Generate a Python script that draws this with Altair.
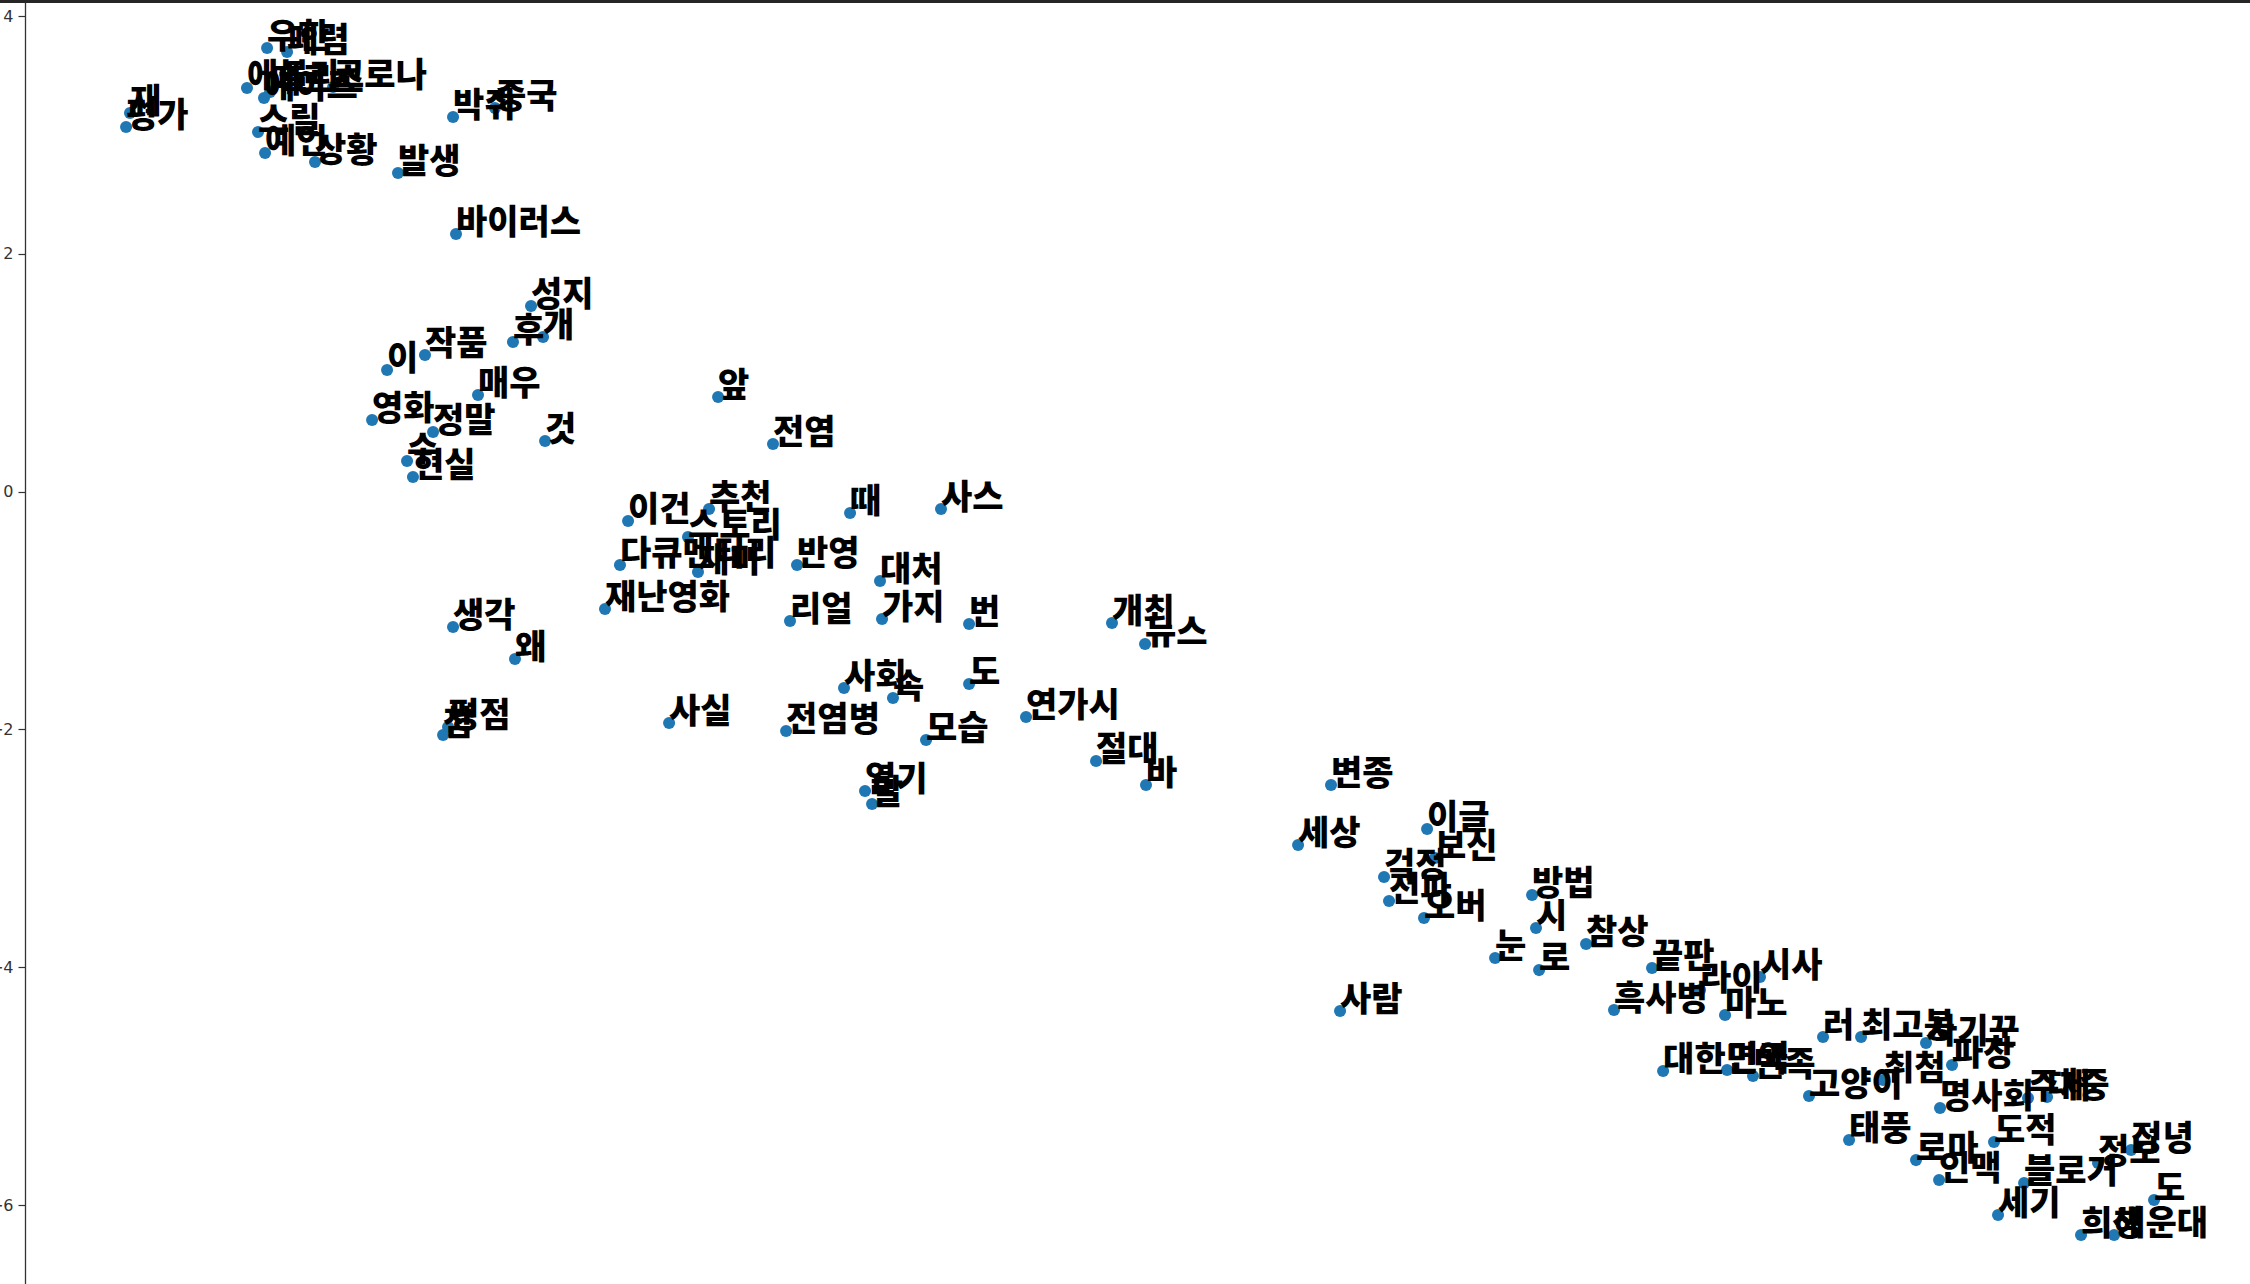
import altair as alt
import pandas as pd

words = [
    "재", "평가", "우한", "폐렴", "에볼라", "메르스", "에이즈", "코로나", "스릴", "예언",
    "상황", "박쥐", "중국", "발생", "바이러스", "성지", "후", "개", "이", "작품",
    "매우", "영화", "정말", "것", "수", "현실", "앞", "전염", "이건", "추천",
    "스토리", "다큐멘터리", "재미", "반영", "재난영화", "때", "사스", "대처", "리얼", "가지",
    "번", "개최", "뉴스", "생각", "왜", "평점", "참", "사회", "속", "도",
    "사실", "전염병", "모습", "연가시", "절대", "바", "열기", "말", "변종", "세상",
    "이글", "걱정", "보신", "전파", "오버", "방법", "시", "눈", "로", "참상",
    "사람", "끝판", "라이", "시사", "흑사병", "마노", "대한민국", "면역", "민족", "러",
    "최고봉", "사기꾼", "파장", "취첨", "고양이", "명사회", "주제", "대중", "태풍", "로마",
    "인맥", "도적", "블로거", "정보", "정녕", "세기", "도", "희생", "해운대",
]

xs = [
    -8.092, -8.125, -6.939, -6.771, -7.108, -6.914, -6.965, -6.384, -7.015, -6.956,
    -6.536, -5.375, -5.022, -5.838, -5.350, -4.719, -4.871, -4.618, -5.930, -5.611,
    -5.165, -6.056, -5.543, -4.601, -5.762, -5.712, -3.146, -2.684, -3.903, -3.222,
    -3.399, -3.971, -3.315, -2.482, -4.097, -2.036, -1.271, -1.784, -2.541, -1.767,
    -1.035, 0.167, 0.445, -5.375, -4.854, -5.417, -5.459, -2.087, -1.675, -1.035,
    -3.558, -2.574, -1.397, -0.556, 0.033, 0.453, -1.910, -1.851, 2.009, 1.732,
    2.817, 2.455, 2.884, 2.497, 2.791, 3.700, 3.733, 3.389, 3.759, 4.154,
    2.085, 4.709, 5.113, 5.617, 4.389, 5.323, 4.802, 5.340, 5.558, 6.147,
    6.467, 7.013, 7.232, 6.652, 6.029, 7.131, 7.871, 8.031, 6.366, 6.929,
    7.123, 7.585, 7.838, 8.460, 8.738, 7.619, 8.931, 8.317, 8.595,
]

ys = [
    3.184, 3.067, 3.731, 3.697, 3.395, 3.361, 3.310, 3.403, 3.024, 2.848,
    2.772, 3.151, 3.226, 2.680, 2.167, 1.561, 1.258, 1.300, 1.023, 1.149,
    0.813, 0.602, 0.501, 0.426, 0.257, 0.123, 0.796, 0.400, -0.247, -0.146,
    -0.382, -0.617, -0.676, -0.617, -0.987, -0.180, -0.146, -0.752, -1.088, -1.071,
    -1.113, -1.105, -1.282, -1.139, -1.408, -1.980, -2.047, -1.652, -1.736, -1.618,
    -1.946, -2.013, -2.089, -1.896, -2.266, -2.468, -2.518, -2.627, -2.468, -2.972,
    -2.838, -3.241, -3.082, -3.443, -3.586, -3.393, -3.670, -3.923, -4.024, -3.805,
    -4.368, -4.007, -4.192, -4.082, -4.360, -4.402, -4.873, -4.864, -4.915, -4.587,
    -4.587, -4.637, -4.822, -4.949, -5.083, -5.184, -5.100, -5.092, -5.453, -5.622,
    -5.790, -5.470, -5.815, -5.647, -5.537, -6.084, -5.958, -6.252, -6.252,
]

y_ticks = [-6, -4, -2, 0, 2, 4]
x_domain = [-8.975, 9.738]
y_domain = [-6.664, 4.135]

df = pd.DataFrame({"word": words, "x": xs, "y": ys})

base = alt.Chart(df).encode(
    x=alt.X("x:Q", scale=alt.Scale(domain=x_domain, nice=False, zero=False), axis=None),
    y=alt.Y(
        "y:Q",
        scale=alt.Scale(domain=y_domain, nice=False, zero=False),
        axis=alt.Axis(
            values=y_ticks,
            format="d",
            grid=False,
            title=None,
            domainColor="#333333",
            domainWidth=1.3,
            tickColor="#333333",
            tickSize=7,
            tickWidth=1.2,
            labelPadding=5,
            labelFont="DejaVu Sans",
            labelFontSize=16,
            labelColor="#333333",
        ),
    ),
)

points = base.mark_circle(size=145, color="#1f77b4", opacity=1)

labels = base.mark_text(
    align="left",
    baseline="alphabetic",
    font="Noto Sans CJK KR",
    fontSize=34,
    fontWeight=900,
    color="black",
).encode(text="word:N")

frame = alt.Chart(pd.DataFrame({"k": [0]})).mark_rule(color="#262626", strokeWidth=4).encode(
    x=alt.value(-25), x2=alt.value(2225), y=alt.value(1)
)

chart = (
    alt.layer(points, labels, frame)
    .properties(
        width=2225,
        height=1284,
        padding={"left": 25, "top": 0, "right": 0, "bottom": 0},
        autosize="none",
        background="white",
    )
    .configure_view(stroke=None)
)

chart.save("out.html", embed_options={"renderer": "svg", "actions": False})
